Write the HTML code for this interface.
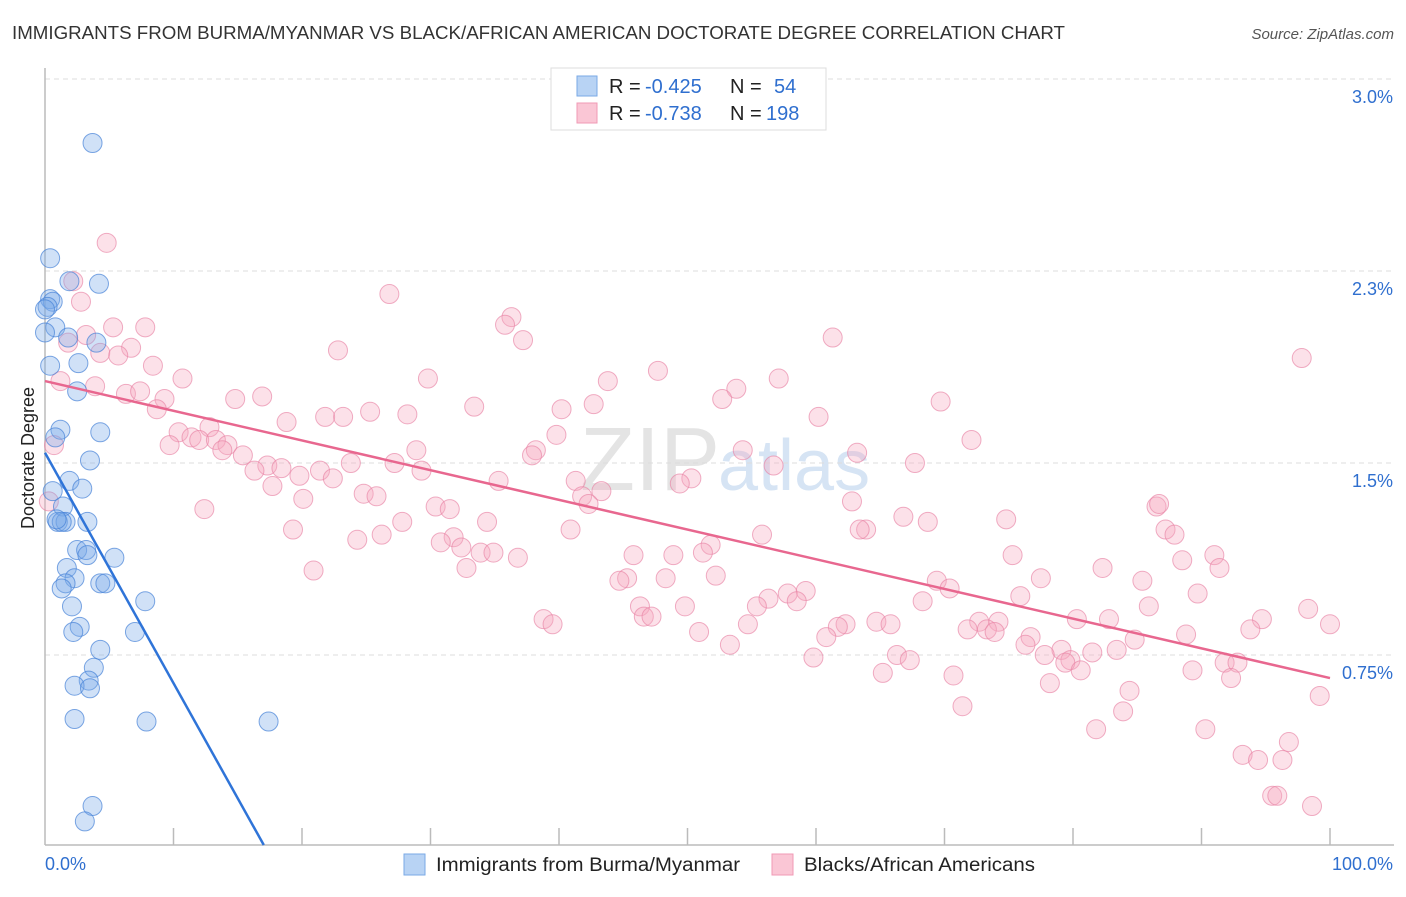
<!DOCTYPE html>
<html><head><meta charset="utf-8"><style>
body{margin:0;background:#fff;font-family:"Liberation Sans",sans-serif;}
svg text{font-family:"Liberation Sans",sans-serif;}
</style></head><body>
<svg id="chart" width="1406" height="892" xmlns="http://www.w3.org/2000/svg">
<text x="12" y="39" font-size="18" fill="#333" textLength="1053" lengthAdjust="spacingAndGlyphs">IMMIGRANTS FROM BURMA/MYANMAR VS BLACK/AFRICAN AMERICAN DOCTORATE DEGREE CORRELATION CHART</text>
<text x="1394" y="39" font-size="15" fill="#555" text-anchor="end" font-style="italic">Source: ZipAtlas.com</text>
<text transform="translate(34,458) rotate(-90)" font-size="18" fill="#222" text-anchor="middle">Doctorate Degree</text>
<text x="720" y="490" font-size="90" fill="#e4e4e4" text-anchor="end" font-family="Liberation Serif">ZIP</text>
<text x="718" y="490" font-size="72" fill="#d6e4f4">atlas</text>
<g id="grid"></g><g id="axes"></g><g id="pts"></g><g id="lines"></g>
<g>
<rect x="551" y="68" width="275" height="62" fill="#fff" stroke="#ddd"/>
<rect x="577" y="76" width="20" height="20" fill="#b8d3f4" stroke="#7aaae6"/>
<rect x="577" y="103" width="20" height="20" fill="#fac6d5" stroke="#f09ab5"/>
<text x="609" y="93" font-size="20" fill="#222">R = <tspan x="645" fill="#2f6fcf">-0.425</tspan><tspan x="730">N = </tspan><tspan x="774" fill="#2f6fcf">54</tspan></text>
<text x="609" y="120" font-size="20" fill="#222">R = <tspan x="645" fill="#2f6fcf">-0.738</tspan><tspan x="730">N = </tspan><tspan x="766" fill="#2f6fcf">198</tspan></text>
</g>
<g>
<rect x="404" y="854" width="21" height="21" fill="#b8d3f4" stroke="#7aaae6"/>
<text x="436" y="871" font-size="19" fill="#222" textLength="304" lengthAdjust="spacingAndGlyphs">Immigrants from Burma/Myanmar</text>
<rect x="772" y="854" width="21" height="21" fill="#fac6d5" stroke="#f09ab5"/>
<text x="804" y="871" font-size="19" fill="#222" textLength="231" lengthAdjust="spacingAndGlyphs">Blacks/African Americans</text>
</g>
<text x="45" y="870" font-size="18" fill="#2f6fcf">0.0%</text>
<text x="1393" y="870" font-size="18" fill="#2f6fcf" text-anchor="end">100.0%</text>
</svg>
<script>
const yTicks=[0.75,1.5,2.25,3.0];
const yTickLabels=["0.75%","1.5%","2.3%","3.0%"];
const blueX=[3.7,0.4,1.9,4.2,0.4,0.6,0.2,0.0,0.8,1.8,4.0,0.4,2.6,2.5,1.2,4.3,0.8,3.5,1.9,2.9,0.6,1.4,3.3,1.0,1.6,1.3,2.5,3.2,5.4,3.3,1.7,2.3,1.6,1.3,4.3,4.7,7.8,2.1,2.7,2.2,7.0,4.3,3.8,3.4,2.3,3.5,2.3,7.9,17.4,3.7,3.1,0.0,0.9];
const blueY=[2.75,2.30,2.21,2.20,2.14,2.13,2.11,2.10,2.03,1.99,1.97,1.88,1.89,1.78,1.63,1.62,1.60,1.51,1.43,1.40,1.39,1.33,1.27,1.27,1.27,1.27,1.16,1.16,1.13,1.14,1.09,1.05,1.03,1.01,1.03,1.03,0.96,0.94,0.86,0.84,0.84,0.77,0.70,0.65,0.63,0.62,0.50,0.49,0.49,0.16,0.10,2.01,1.28];
const pinkX=[4.8,2.2,2.8,26.8,36.3,35.8,5.3,7.8,3.2,1.8,6.7,4.3,5.7,37.2,22.8,61.3,97.8,8.4,47.7,10.7,1.2,3.9,29.8,43.8,57.1,6.3,7.4,53.8,9.3,14.8,16.9,52.7,69.7,8.7,33.4,40.2,42.7,25.3,28.2,21.8,23.2,18.8,60.2,10.4,12.8,11.4,12.0,13.3,14.2,9.7,13.8,39.8,72.1,0.7,38.2,54.3,63.2,15.4,28.9,37.9,27.2,23.8,17.3,18.4,16.3,21.4,29.3,56.7,67.7,19.8,22.4,35.3,41.3,50.3,49.4,17.7,43.3,24.8,25.8,41.8,42.3,62.8,0.3,20.1,30.4,31.5,12.4,86.5,86.7,66.8,68.7,74.8,34.4,27.8,19.3,40.9,63.9,63.4,87.2,87.9,55.8,31.8,26.2,24.3,30.8,51.8,32.4,33.9,34.9,51.2,36.8,45.8,48.9,75.3,91.0,88.5,82.3,91.4,32.8,20.9,52.2,77.5,45.3,44.7,48.3,85.4,69.4,70.4,59.2,57.8,56.3,58.5,55.4,68.3,75.9,89.7,46.3,49.8,85.9,98.3,46.6,47.2,80.3,82.8,94.7,38.8,39.5,54.7,62.3,64.7,65.8,72.7,74.2,71.8,61.7,73.3,73.9,100,50.9,93.8,88.8,60.8,84.8,76.7,76.3,79.1,53.3,81.5,83.4,77.8,79.8,79.4,66.3,67.3,59.8,91.8,92.8,80.6,89.3,65.2,70.7,92.3,78.2,84.4,99.2,71.4,83.9,81.8,90.3,96.8,93.2,94.4,96.3,95.5,95.9,98.6];
const pinkY=[2.36,2.21,2.13,2.16,2.07,2.04,2.03,2.03,2.00,1.97,1.95,1.93,1.92,1.98,1.94,1.99,1.91,1.88,1.86,1.83,1.82,1.80,1.83,1.82,1.83,1.77,1.78,1.79,1.75,1.75,1.76,1.75,1.74,1.71,1.72,1.71,1.73,1.70,1.69,1.68,1.68,1.66,1.68,1.62,1.64,1.60,1.59,1.59,1.57,1.57,1.55,1.61,1.59,1.57,1.55,1.55,1.54,1.53,1.55,1.53,1.50,1.50,1.49,1.48,1.47,1.47,1.47,1.49,1.50,1.45,1.44,1.43,1.43,1.44,1.42,1.41,1.39,1.38,1.37,1.37,1.34,1.35,1.35,1.36,1.33,1.32,1.32,1.33,1.34,1.29,1.27,1.28,1.27,1.27,1.24,1.24,1.24,1.24,1.24,1.22,1.22,1.21,1.22,1.20,1.19,1.18,1.17,1.15,1.15,1.15,1.13,1.14,1.14,1.14,1.14,1.12,1.09,1.09,1.09,1.08,1.06,1.05,1.05,1.04,1.05,1.04,1.04,1.01,1.00,0.99,0.97,0.96,0.94,0.96,0.98,0.99,0.94,0.94,0.94,0.93,0.90,0.90,0.89,0.89,0.89,0.89,0.87,0.87,0.87,0.88,0.87,0.88,0.88,0.85,0.86,0.85,0.84,0.87,0.84,0.85,0.83,0.82,0.81,0.82,0.79,0.77,0.79,0.76,0.77,0.75,0.73,0.72,0.75,0.73,0.74,0.72,0.72,0.69,0.69,0.68,0.67,0.66,0.64,0.61,0.59,0.55,0.53,0.46,0.46,0.41,0.36,0.34,0.34,0.20,0.20,0.16];
const blueFit=[1.54,-0.09];
const pinkFit=[1.82,-0.0116];
const X0=45,X1=1330,YB=847,PXPER=256;
const sx=v=>X0+(X1-X0)*v/100;
const sy=v=>YB-v*PXPER;
const NS="http://www.w3.org/2000/svg";
function mk(tag,attrs,parent){const e=document.createElementNS(NS,tag);for(const k in attrs)e.setAttribute(k,attrs[k]);parent.appendChild(e);return e;}
const grid=document.getElementById('grid'),axes=document.getElementById('axes'),pts=document.getElementById('pts'),lines=document.getElementById('lines');
yTicks.forEach((t,i)=>{
 const l=mk('line',{x1:45,x2:1394,y1:sy(t),y2:sy(t),stroke:'#ddd','stroke-dasharray':'5,4'},grid);
 
 
 const tx=mk('text',{x:1393,y:sy(t)+24,'font-size':18,fill:'#2f6fcf','text-anchor':'end'},axes);
 tx.textContent=yTickLabels[i];
 
 
});
const ya=mk('line',{x1:45,x2:45,y1:68,y2:845,stroke:'#bbb','stroke-width':1.5},axes);


const xa=mk('line',{x1:45,x2:1394,y1:845,y2:845,stroke:'#bbb','stroke-width':1.5},axes);


for(let i=1;i<=10;i++){
 const tk=mk('line',{x1:sx(i*10),x2:sx(i*10),y1:828,y2:845,stroke:'#bbb','stroke-width':1.5},axes);
 
 
}
pinkX.forEach((x,i)=>{
 const c=mk('circle',{cx:sx(x),cy:sy(pinkY[i]),r:9.5,fill:'rgba(246,168,192,0.35)',stroke:'rgba(232,130,165,0.65)','stroke-width':1},pts);
 
 
});
blueX.forEach((x,i)=>{
 const c=mk('circle',{cx:sx(x),cy:sy(blueY[i]),r:9.5,fill:'rgba(120,170,232,0.35)',stroke:'rgba(70,130,215,0.7)','stroke-width':1},pts);
 
 
});
const bxEnd=(0-blueFit[0])/blueFit[1]*0.995;
const bl=mk('line',{x1:sx(0),y1:sy(blueFit[0]),x2:sx(bxEnd),y2:sy(blueFit[0]+blueFit[1]*bxEnd),stroke:'#2f74d8','stroke-width':2.5},lines);


const pl=mk('line',{x1:sx(0),y1:sy(pinkFit[0]),x2:sx(100),y2:sy(pinkFit[0]+pinkFit[1]*100),stroke:'#e8678f','stroke-width':2.5},lines);


</script>
</body></html>
